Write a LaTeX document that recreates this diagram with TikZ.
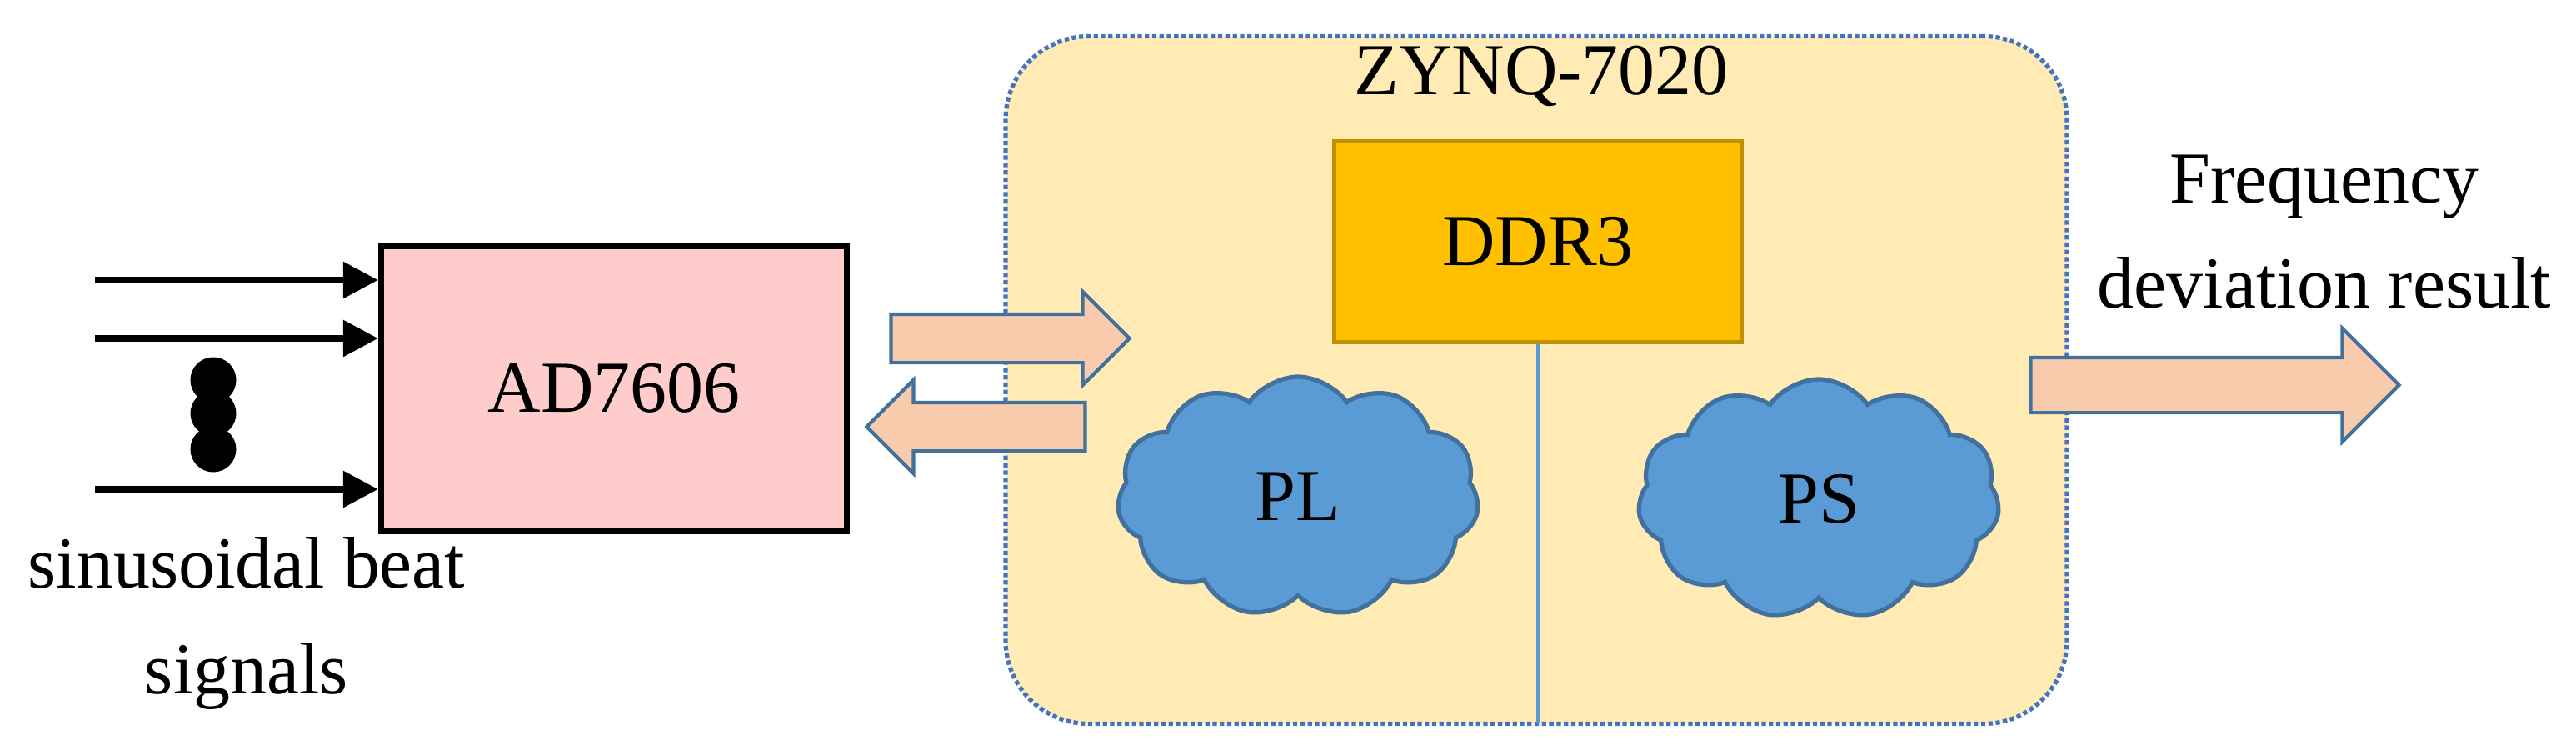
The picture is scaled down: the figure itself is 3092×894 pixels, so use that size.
\documentclass[tikz,border=0pt]{standalone}
\usepackage{fontspec}
\setmainfont{Liberation Serif}
\usetikzlibrary{shapes.symbols,shapes.arrows,arrows.meta}
\definecolor{zfill}{HTML}{FFEBB3}
\definecolor{zline}{HTML}{4472C4}
\definecolor{dfill}{HTML}{FFC000}
\definecolor{dline}{HTML}{BF9000}
\definecolor{afill}{HTML}{FFCCCC}
\definecolor{arfill}{HTML}{F8CBAD}
\definecolor{arline}{HTML}{41719C}
\definecolor{cfill}{HTML}{5B9BD5}
\begin{document}
\begin{tikzpicture}[x=0.1mm,y=-0.1mm,
  txt/.style={font=\fontsize{25}{36}\selectfont},
  fat/.style={single arrow,draw=arline,fill=arfill,line width=1.2pt,inner sep=0pt,minimum width=0pt,anchor=center},
  cl/.style={cloud,cloud puffs=11,cloud puff arc=110,aspect=1.4,draw=arline,fill=cfill,line width=1.5pt,minimum width=434*0.1mm,minimum height=288*0.1mm,txt},
  inarr/.style={-{Triangle[length=12pt,width=12pt]},line width=2.5pt}]
\useasboundingbox (0,0) rectangle (3092,894);
% container
\node[draw=zline,fill=zfill,densely dotted,line width=1.5pt,rounded corners=100*0.1mm,minimum width=1274*0.1mm,minimum height=825*0.1mm] (zynq) at (1844,456) {};
\node[txt] (zt) at (1850,91) {ZYNQ-7020};
\node[draw=dline,fill=dfill,line width=1.5pt,minimum width=489*0.1mm,minimum height=241*0.1mm,txt] (ddr) at (1846,290) {DDR3};
\coordinate (lb) at (1846,868);
\draw[cfill,line width=1pt] (ddr.south) -- (lb);
\node[cl] (pl) at (1558,596) {PL};
\node[cl] (ps) at (2183,599) {PS};
% AD7606
\node[draw=black,fill=afill,line width=2pt,minimum width=559*0.1mm,minimum height=342*0.1mm,txt] (ad) at (737,466) {AD7606};
\coordinate (i1) at (114,336);\coordinate (i2) at (114,406);\coordinate (i3) at (114,587);
\draw[inarr] (i1) -- (ad.west|-i1);
\draw[inarr] (i2) -- (ad.west|-i2);
\draw[inarr] (i3) -- (ad.west|-i3);
\foreach \y/\n in {456/d1,496/d2,539/d3}{\node[circle,fill=black,inner sep=0pt,minimum size=5.5mm] (\n) at (256,\y) {};}
\node[txt,align=center] (sig) at (296,748) {sinusoidal beat\\signals};
% fat arrows
\node[fat,minimum height=286*0.1mm,inner ysep=2.7mm,single arrow head extend=2.7mm] (a1) at (1198,406) {};
\node[fat,minimum height=262*0.1mm,inner ysep=2.7mm,single arrow head extend=2.7mm,shape border rotate=180] (a2) at (1186,512) {};
\node[fat,minimum height=442*0.1mm,inner ysep=3.1mm,single arrow head extend=3.5mm] (a3) at (2642,462) {};
\node[txt,align=center] (fr) at (2790,278) {Frequency\\deviation result};
\end{tikzpicture}
\end{document}
